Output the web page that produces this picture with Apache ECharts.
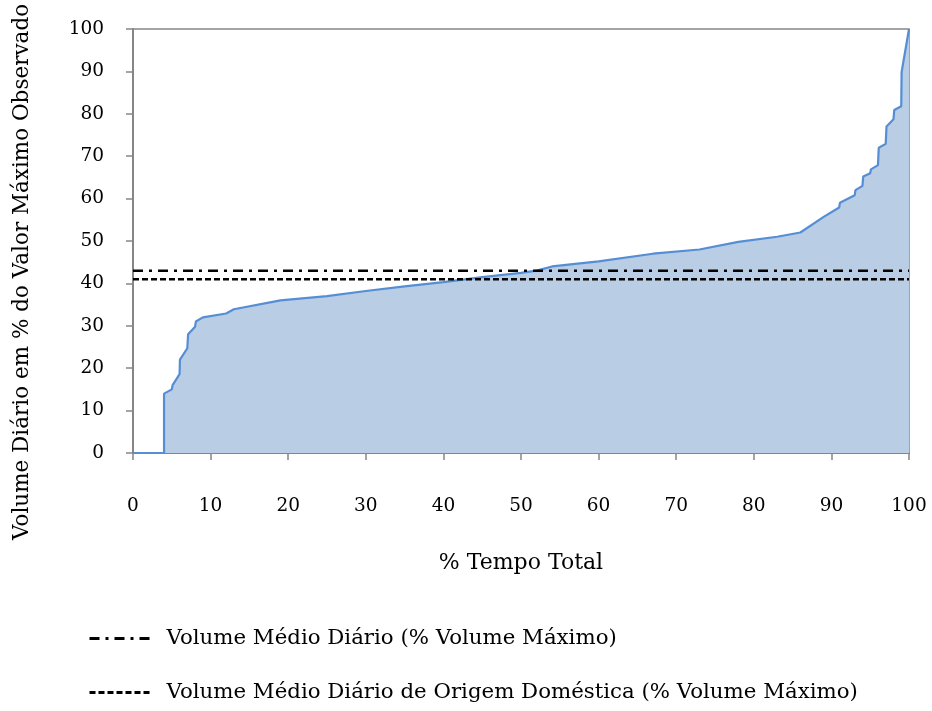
<!DOCTYPE html>
<html>
<head>
<meta charset="utf-8">
<script src="https://cdn.jsdelivr.net/npm/echarts@6/dist/echarts.min.js"></script>
<style>html,body{margin:0;padding:0;background:#fff}#c{width:932px;height:711px}</style>
</head>
<body>
<div id="c"></div>
<script>
// Data
const tempoPct = [0, 4, 4, 5, 5.1, 6, 6.05, 7, 7.1, 8, 8.1, 9, 12, 13, 19, 25, 30, 35, 40, 45, 50, 52, 54, 60, 67, 73, 78, 83, 86, 89, 91, 91.1, 93, 93.1, 94, 94.1, 95, 95.1, 96, 96.1, 97, 97.1, 98, 98.1, 99, 99.05, 100];
const volumePct = [0, 0, 14, 15, 16, 18.6, 22, 24.7, 28, 29.8, 31, 32, 32.9, 33.9, 36, 37, 38.2, 39.3, 40.3, 41.5, 42.5, 43, 44, 45.2, 47, 48, 49.8, 51, 52, 55.7, 57.9, 59, 60.8, 62, 63, 65.2, 66, 66.9, 67.9, 72, 72.9, 77, 78.7, 80.9, 81.8, 89.9, 100];
const mediaDiaria = 43;
const mediaDomestica = 41;
const xTicks = [0, 10, 20, 30, 40, 50, 60, 70, 80, 90, 100];
const yTicks = [0, 10, 20, 30, 40, 50, 60, 70, 80, 90, 100];
const nomeMedia = 'Volume Médio Diário (% Volume Máximo)';
const nomeDomestica = 'Volume Médio Diário de Origem Doméstica (% Volume Máximo)';

const FONT = 'DejaVu Serif';
const chart = echarts.init(document.getElementById('c'));
const curve = tempoPct.map((x, i) => [x, volumePct[i]]);
chart.setOption({
  animation: false,
  textStyle: { fontFamily: FONT, color: '#000' },
  grid: { left: 133, right: 23, top: 29, bottom: 258, show: true, borderColor: '#868686', borderWidth: 1.5 },
  xAxis: {
    type: 'value', min: 0, max: 100, interval: 10,
    name: '% Tempo Total', nameLocation: 'middle', nameGap: 99,
    nameTextStyle: { fontFamily: FONT, fontSize: 22, color: '#000' },
    axisLine: { lineStyle: { color: '#868686', width: 2 } },
    axisTick: { show: true, length: 7, lineStyle: { color: '#868686', width: 1.5 } },
    axisLabel: { margin: 44, fontFamily: FONT, fontSize: 18.5, color: '#000',
      formatter: v => xTicks.includes(v) ? String(v) : '' },
    splitLine: { show: false }
  },
  yAxis: {
    type: 'value', min: 0, max: 100, interval: 10,
    axisLine: { show: true, lineStyle: { color: '#868686', width: 2 } },
    axisTick: { show: true, length: 7, lineStyle: { color: '#868686', width: 1.5 } },
    axisLabel: { margin: 29, fontFamily: FONT, fontSize: 18.5, color: '#000',
      formatter: v => yTicks.includes(v) ? String(v) : '' },
    splitLine: { show: false }
  },
  graphic: [{
    type: 'text', rotation: Math.PI / 2, x: 22, y: 272,
    style: { text: 'Volume Diário em % do Valor Máximo Observado', fontFamily: FONT, fontSize: 21.5, fill: '#000', align: 'center', verticalAlign: 'middle' }
  }],
  legend: {
    orient: 'vertical', left: 88, top: 628, padding: 0, itemGap: 33, itemWidth: 60, itemHeight: 22,
    itemStyle: { opacity: 0 },
    lineStyle: { width: 3 },
    textStyle: { fontFamily: FONT, fontSize: 21.3, color: '#000', padding: [0, 0, 0, 12] },
    data: [nomeMedia, nomeDomestica]
  },
  series: [
    {
      type: 'line', name: 'Volume', data: curve, symbol: 'none',
      lineStyle: { color: '#558ed5', width: 2.2 },
      areaStyle: { color: '#b9cde5', opacity: 1 }, z: 2
    },
    {
      type: 'line', name: nomeMedia, data: [[0, mediaDiaria], [100, mediaDiaria]], symbol: 'none',
      lineStyle: { color: '#000', width: 2.5, type: [10, 6, 3, 6] }, itemStyle: { color: '#000' }, z: 3
    },
    {
      type: 'line', name: nomeDomestica, data: [[0, mediaDomestica], [100, mediaDomestica]], symbol: 'none',
      lineStyle: { color: '#000', width: 2.5, type: [6, 3] }, itemStyle: { color: '#000' }, z: 3
    }
  ]
});
</script>
</body>
</html>
